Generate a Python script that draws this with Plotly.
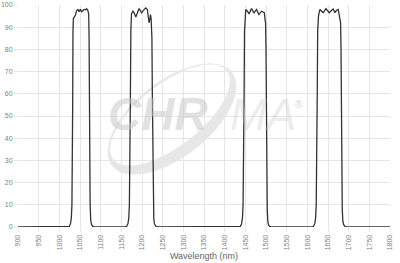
import plotly.graph_objects as go
import math

# ---- data ----
wl1 = [1018, 1024, 1027, 1029, 1030.5, 1031.5, 1032.3, 1033, 1034, 1036, 1039, 1042, 1045, 1048, 1051,
       1054, 1057, 1060, 1063, 1066, 1069, 1071, 1072, 1072.8, 1073.6, 1074.5, 1076, 1078, 1081, 1086]
t1 = [0, 0.3, 1.5, 4, 10, 25, 55, 88, 94, 94.5, 95.5, 97.5, 98, 97, 98,
      97, 97.5, 98, 97.8, 98.3, 97.5, 96, 85, 55, 25, 10, 3, 1, 0.3, 0]

wl2 = [1158, 1163, 1166, 1168, 1169.5, 1171, 1172, 1173, 1174.5, 1178, 1181, 1185, 1189, 1193, 1196,
       1199, 1203, 1209, 1213, 1217, 1219, 1220.5, 1222, 1224, 1225, 1226, 1227, 1228.5, 1230, 1233, 1238]
t2 = [0, 0.3, 1.5, 4, 10, 28, 60, 88, 96, 97.2, 96.5, 94.6, 97, 98.4, 97.5,
      96.5, 97.5, 98.7, 98, 92, 93.5, 95.7, 94, 85, 60, 30, 12, 4, 1.5, 0.4, 0]

wl3 = [1434, 1438, 1441, 1443, 1444.5, 1446, 1447, 1448, 1449.5, 1451, 1455, 1459, 1465, 1471, 1477,
       1483, 1489, 1493, 1496, 1498, 1499, 1500, 1501, 1502, 1503, 1504.5, 1506, 1509, 1514]
t3 = [0, 0.3, 1.5, 4, 10, 28, 60, 88, 96, 98, 97.2, 96, 98.4, 96.5, 98,
      95.7, 97.2, 96.8, 96.5, 93, 92, 80, 50, 22, 8, 2.5, 1, 0.3, 0]

wl4 = [1610, 1615, 1618, 1620, 1621.5, 1623, 1624, 1625, 1627, 1630.4, 1634, 1638.4, 1645, 1649, 1653,
       1658, 1662.6, 1666.7, 1670, 1674.7, 1677, 1679, 1680.5, 1681.5, 1682.5, 1683.5, 1684.5, 1686, 1688, 1691, 1696]
t4 = [0, 0.3, 1.5, 4, 10, 28, 60, 88, 95, 98, 97.5, 96.5, 98.4, 97.5, 96.5,
      97.5, 98.2, 96.5, 97.5, 98, 96, 92.7, 92, 80, 50, 22, 8, 2.5, 1, 0.3, 0]

x_start, x_end = 900, 1800

wavelength = [x_start] + wl1 + wl2 + wl3 + wl4 + [x_end]
transmission = [0] + t1 + t2 + t3 + t4 + [0]

# ---- figure ----
W, H = 400, 263
ML, MR, MT, MB = 18, 10, 5, 36
grid = "#e6e6e6"
tickfont = dict(family="Liberation Sans, Arial, sans-serif", size=7, color="#808080")

fig = go.Figure()
fig.add_trace(go.Scatter(x=wavelength, y=transmission, mode="lines",
                         line=dict(color="#333333", width=1.3), hoverinfo="skip",
                         showlegend=False))

# watermark helpers (pixel -> paper)
pw = W - ML - MR
ph = H - MT - MB
def px(x):
    return (x - ML) / pw
def py(y):
    return (H - MB - y) / ph

# crescent swoosh of the logo
def ellipse_pts(cx, cy, a, b, ang, n=72):
    pts = []
    ca, sa = math.cos(math.radians(ang)), math.sin(math.radians(ang))
    for i in range(n + 1):
        t = 2 * math.pi * i / n
        ex, ey = a * math.cos(t), b * math.sin(t)
        pts.append((cx + ex * ca - ey * sa, cy - (ex * sa + ey * ca)))
    return pts

outer = ellipse_pts(172, 119, 76, 38, 38)
inner = ellipse_pts(170, 115, 72, 31, 38)
path = "M " + " L ".join(f"{px(x):.4f},{py(y):.4f}" for x, y in outer) + " Z "
path += "M " + " L ".join(f"{px(x):.4f},{py(y):.4f}" for x, y in reversed(inner)) + " Z"
fig.add_shape(type="path", path=path, xref="paper", yref="paper",
              fillcolor="rgba(215,215,215,0.6)", line=dict(width=0), layer="below")

fig.add_annotation(x=px(158), y=py(114), xref="paper", yref="paper", text="<b><i>CHR</i></b>",
                   showarrow=False, xanchor="center", yanchor="middle",
                   font=dict(family="Liberation Sans, Arial, sans-serif", size=46,
                             color="rgba(200,200,200,0.55)"))
fig.add_annotation(x=px(263), y=py(114), xref="paper", yref="paper", text="<i>MA</i>",
                   showarrow=False, xanchor="center", yanchor="middle",
                   font=dict(family="Liberation Sans, Arial, sans-serif", size=44,
                             color="rgba(200,200,200,0.35)"))
fig.add_annotation(x=px(299), y=py(104), xref="paper", yref="paper", text="®",
                   showarrow=False, xanchor="center", yanchor="middle",
                   font=dict(family="Liberation Sans, Arial, sans-serif", size=10, color="#d6d6d6"))

fig.update_layout(
    width=W, height=H,
    margin=dict(l=ML, r=MR, t=MT, b=MB),
    paper_bgcolor="white", plot_bgcolor="white",
    font=dict(family="Liberation Sans, Arial, sans-serif"),
    xaxis=dict(range=[x_start, x_end], dtick=50, tick0=900, tickangle=-90,
               showgrid=True, gridcolor=grid, gridwidth=1, zeroline=False,
               ticks="outside", ticklen=4, tickcolor=grid, tickfont=tickfont,
               showline=False, automargin=False,
               title=dict(text="Wavelength (nm)", standoff=3,
                          font=dict(family="Liberation Sans, Arial, sans-serif", size=9, color="#666666"))),
    yaxis=dict(range=[0, 100], dtick=10, showgrid=True, gridcolor=grid, gridwidth=1,
               zeroline=False, ticks="outside", ticklen=3, tickcolor=grid, tickfont=tickfont,
               showline=False, automargin=False),
)

fig.write_html("out.html")
